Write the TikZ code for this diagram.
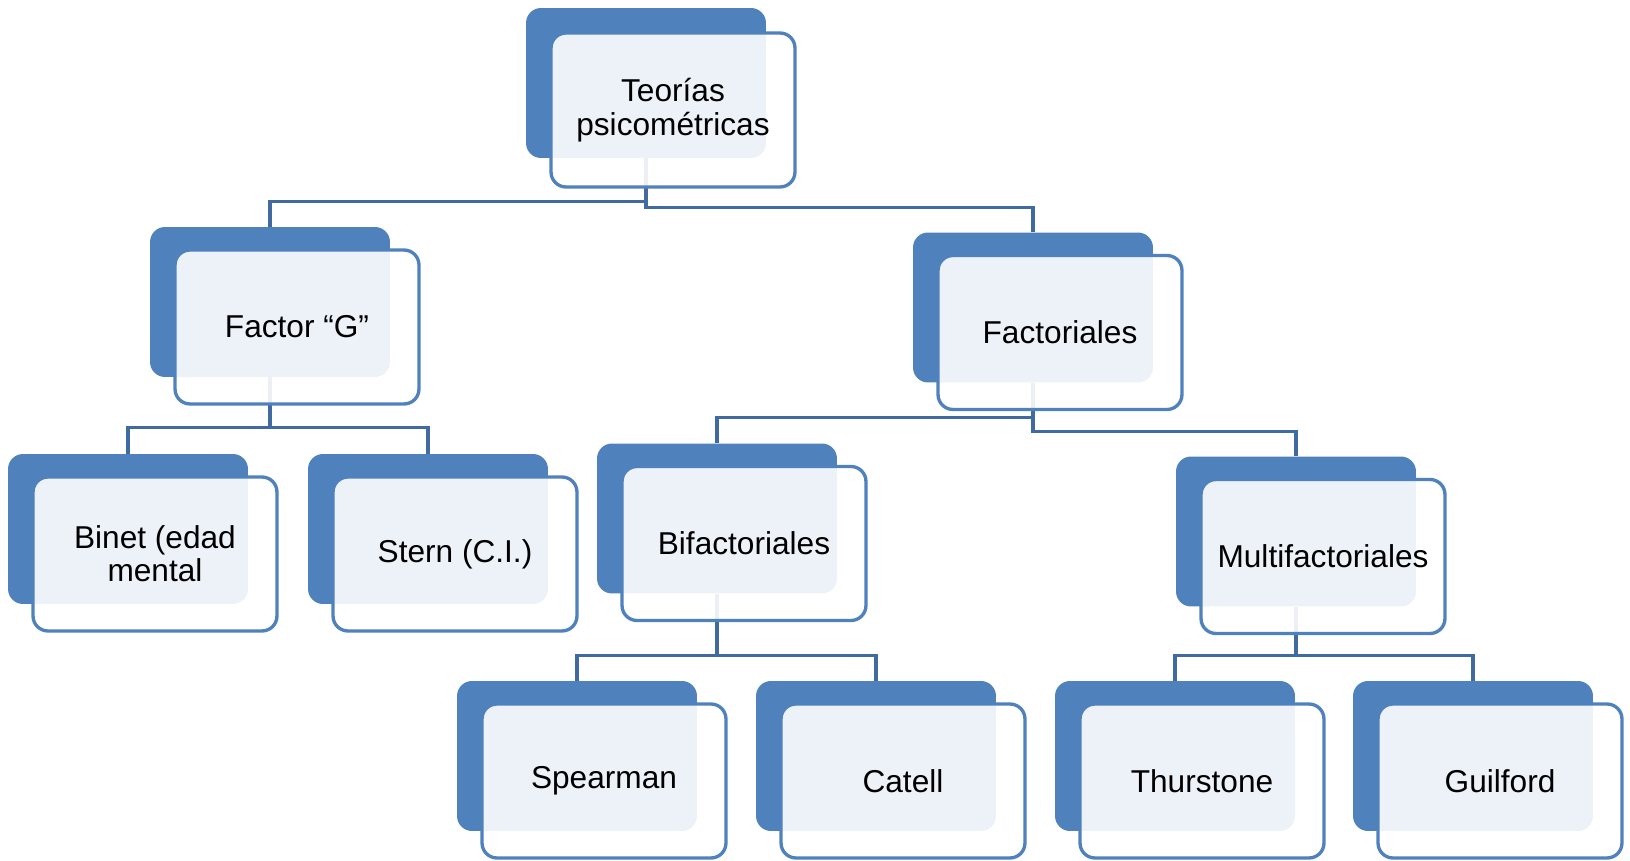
\documentclass[tikz,border=0pt]{standalone}
\usepackage{fontspec}
\setmainfont{Liberation Sans}
\usetikzlibrary{backgrounds}
\definecolor{boxblue}{RGB}{79,129,189}
\definecolor{lineblue}{RGB}{65,106,160}
\begin{document}
\begin{tikzpicture}[x=0.02cm,y=-0.02cm,
	backbox/.style={fill=boxblue,rounded corners=0.3cm,minimum width=4.8cm,minimum height=3cm,inner sep=0pt},
	frontbox/.style={draw=boxblue,line width=1.9pt,fill=white,fill opacity=0.9,text opacity=1,rounded corners=0.3cm,minimum width=4.88cm,minimum height=3.08cm,inner sep=0pt,align=center,font=\fontsize{18}{19}\selectfont},
	link/.style={draw=lineblue,line width=2pt}]
	\useasboundingbox (0,0) rectangle (1630,861);
	% level 0
	\node[backbox] (tp) at (646,83) {};
	\node[frontbox] (tp-f) at ([shift={(27,27)}]tp) {Teorías\\psicométricas};
	% level 1
	\node[backbox] (fg) at (270,302) {};
	\node[frontbox] (fg-f) at ([shift={(27,25)}]fg) {Factor “G”};
	\node[backbox] (fa) at (1033,307.5) {};
	\node[frontbox] (fa-f) at ([shift={(27,25)}]fa) {Factoriales};
	% level 2
	\node[backbox] (bn) at (128,529) {};
	\node[frontbox] (bn-f) at ([shift={(27,25)}]bn) {Binet (edad\\mental};
	\node[backbox] (st) at (428,529) {};
	\node[frontbox] (st-f) at ([shift={(27,25)}]st) {Stern (C.I.)};
	\node[backbox] (bf) at (717,518.5) {};
	\node[frontbox] (bf-f) at ([shift={(27,25)}]bf) {Bifactoriales};
	\node[backbox] (mf) at (1296,531.5) {};
	\node[frontbox] (mf-f) at ([shift={(27,25)}]mf) {Multifactoriales};
	% level 3
	\node[backbox] (sp) at (577,756) {};
	\node[frontbox] (sp-f) at ([shift={(27,25)}]sp) {Spearman};
	\node[backbox] (ca) at (876,756) {};
	\node[frontbox] (ca-f) at ([shift={(27,25)}]ca) {Catell};
	\node[backbox] (th) at (1175,756) {};
	\node[frontbox] (th-f) at ([shift={(27,25)}]th) {Thurstone};
	\node[backbox] (gu) at (1473,756) {};
	\node[frontbox] (gu-f) at ([shift={(27,25)}]gu) {Guilford};
	% connectors
	\begin{scope}[on background layer]
		\draw[link] (tp.south) -- ++(0,43) -| (fg.north);
		\draw[link] (tp.south) -- ++(0,49) -| (fa.north);
		\draw[link] (fg.south) -- ++(0,50) -| (bn.north);
		\draw[link] (fg.south) -- ++(0,50) -| (st.north);
		\draw[link] (fa.south) -- ++(0,34.5) -| (bf.north);
		\draw[link] (fa.south) -- ++(0,48.5) -| (mf.north);
		\draw[link] (bf.south) -- ++(0,61.5) -| (sp.north);
		\draw[link] (bf.south) -- ++(0,61.5) -| (ca.north);
		\draw[link] (mf.south) -- ++(0,48.5) -| (th.north);
		\draw[link] (mf.south) -- ++(0,48.5) -| (gu.north);
	\end{scope}
\end{tikzpicture}
\end{document}
